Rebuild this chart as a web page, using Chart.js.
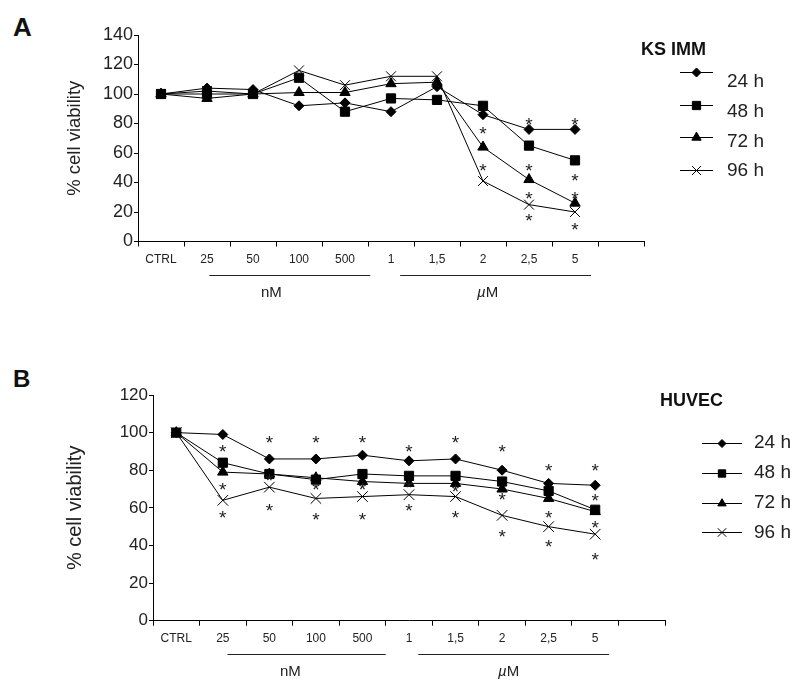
<!DOCTYPE html>
<html>
<head>
<meta charset="utf-8">
<script src="https://cdn.jsdelivr.net/npm/chart.js@4.4.1/dist/chart.umd.min.js"></script>
<style>
  body { margin: 0; background: #fff; width: 799px; height: 683px; position: relative; overflow: hidden; font-family: "Liberation Sans", Arial, sans-serif; }
  canvas { position: absolute; left: 0; }
  #chartA { top: 0; }
  #chartB { top: 350px; }
  .letter { position: absolute; left: 13px; font-weight: bold; color: #111; line-height: 1; }
</style>
</head>
<body>
<div class="letter" style="top:14px;font-size:26px">A</div>
<div class="letter" style="top:367px;font-size:24px">B</div>
<canvas id="chartA" width="799" height="340"></canvas>
<canvas id="chartB" width="799" height="333"></canvas>
<script>
const doseLabels = ["CTRL", "25", "50", "100", "500", "1", "1,5", "2", "2,5", "5", ""];
const timeLabels = ["24 h", "48 h", "72 h", "96 h"];
const yTicksA = [0, 20, 40, 60, 80, 100, 120, 140];
const yTicksB = [0, 20, 40, 60, 80, 100, 120];

// KS IMM
const ksimm24 = [100, 104, 103, 92, 94, 88, 105, 86, 76, 76];
const ksimm48 = [100, 100, 100, 111, 88, 97, 96, 92, 65, 55];
const ksimm72 = [100, 97, 100, 101, 101, 107, 108, 64, 42, 26];
const ksimm96 = [100, 102, 100, 116, 106, 112, 112, 41, 25, 20];
const ksimmStarDoses = ["2", "2", "2,5", "2,5", "2,5", "2,5", "5", "5", "5", "5"];
const ksimmStarValues = [76, 51, 82, 51, 32, 17, 82, 44, 32, 11];

// HUVEC
const huvec24 = [100, 99, 86, 86, 88, 85, 86, 80, 73, 72];
const huvec48 = [100, 84, 78, 75, 78, 77, 77, 74, 69, 59];
const huvec72 = [100, 79, 78, 76, 74, 73, 73, 70, 65, 58];
const huvec96 = [100, 64, 71, 65, 66, 67, 66, 56, 50, 46];
const huvecStarDoses = ["25", "25", "25", "50", "50", "50", "100", "100", "100", "500", "500", "500",
  "1", "1", "1", "1,5", "1,5", "1,5", "2", "2", "2", "2,5", "2,5", "2,5", "5", "5", "5", "5"];
const huvecStarValues = [92, 72, 57, 97, 77, 61, 97, 72, 56, 97, 72, 56,
  92, 73, 61, 97, 71, 57, 92, 67, 47, 82, 57, 42, 82, 66, 52, 35];

Chart.defaults.font.family = '"Liberation Sans", Arial, sans-serif';
Chart.defaults.color = "#222";

const markers = ["rectRot", "rect", "triangle", "crossRot"];
const FONT = '"Liberation Sans", Arial, sans-serif';

function makeDatasets(series, radii) {
  return series.map((values, i) => ({
    label: timeLabels[i],
    data: values,
    borderColor: "#000",
    borderWidth: 1,
    backgroundColor: "#000",
    pointStyle: markers[i],
    pointRadius: radii[i],
    pointBackgroundColor: "#000",
    pointBorderColor: "#000",
    pointBorderWidth: 1,
    tension: 0,
    fill: false,
  }));
}

// significance asterisks, placed through the chart's scales
const starPlugin = {
  id: "stars",
  afterDatasetsDraw(chart, args, opts) {
    const { ctx } = chart;
    const x = chart.scales.x, y = chart.scales.y;
    ctx.save();
    ctx.fillStyle = "#222";
    ctx.font = opts.size + "px " + FONT;
    ctx.textAlign = "center";
    ctx.textBaseline = "alphabetic";
    opts.doses.forEach((d, i) => {
      const px = x.getPixelForValue(doseLabels.indexOf(d));
      const py = y.getPixelForValue(opts.values[i]);
      ctx.fillText("*", px, py + opts.size * 0.57);
    });
    ctx.restore();
  },
};

// nM / µM brackets under the x axis
const unitPlugin = {
  id: "units",
  afterDraw(chart, args, opts) {
    const { ctx } = chart;
    const x = chart.scales.x;
    const base = chart.chartArea.bottom;
    ctx.save();
    ctx.strokeStyle = "#222";
    ctx.fillStyle = "#222";
    ctx.lineWidth = 1;
    opts.items.forEach((it) => {
      const x1 = x.getPixelForValue(it.from);
      const x2 = x.getPixelForValue(it.to);
      ctx.beginPath();
      ctx.moveTo(x1, Math.round(base + opts.lineOffset) + 0.5);
      ctx.lineTo(x2, Math.round(base + opts.lineOffset) + 0.5);
      ctx.stroke();
      const cx = x.getPixelForValue(it.at);
      const ty = base + opts.textOffset;
      ctx.textBaseline = "middle";
      if (it.text === "µM") {
        ctx.font = "italic " + opts.size + "px " + FONT;
        const w1 = ctx.measureText("µ").width;
        ctx.font = opts.size + "px " + FONT;
        const w2 = ctx.measureText("M").width;
        let sx = cx - (w1 + w2) / 2;
        ctx.textAlign = "left";
        ctx.font = "italic " + opts.size + "px " + FONT;
        ctx.fillText("µ", sx, ty);
        ctx.font = opts.size + "px " + FONT;
        ctx.fillText("M", sx + w1, ty);
      } else {
        ctx.textAlign = "center";
        ctx.font = opts.size + "px " + FONT;
        ctx.fillText(it.text, cx, ty);
      }
    });
    ctx.restore();
  },
};

// legend drawn as line + marker, like the original figure
const legendPlugin = {
  id: "sideLegend",
  afterDraw(chart, args, opts) {
    const { ctx } = chart;
    ctx.save();
    ctx.fillStyle = "#111";
    ctx.font = "bold " + opts.titleSize + "px " + FONT;
    ctx.textAlign = "left";
    ctx.textBaseline = "alphabetic";
    ctx.fillText(opts.title, opts.titleX, opts.titleY);
    chart.data.datasets.forEach((ds, i) => {
      const ly = Math.round(opts.lineY + i * opts.lineDy) + 0.5;
      ctx.strokeStyle = "#000";
      ctx.fillStyle = "#000";
      ctx.lineWidth = 1;
      ctx.beginPath();
      ctx.moveTo(opts.x1, ly);
      ctx.lineTo(opts.x2, ly);
      ctx.stroke();
      Chart.helpers.drawPoint(ctx, {
        pointStyle: ds.pointStyle,
        rotation: 0,
        radius: ds.pointRadius * opts.markerScale,
        borderWidth: 1,
      }, (opts.x1 + opts.x2) / 2, ly);
      ctx.fillStyle = "#222";
      ctx.font = opts.textSize + "px " + FONT;
      ctx.textBaseline = "middle";
      ctx.fillText(ds.label, opts.textX, opts.textY + i * opts.textDy);
    });
    ctx.restore();
  },
};

function makeChart(id, series, yTicks, cfg) {
  return new Chart(document.getElementById(id), {
    type: "line",
    data: { labels: doseLabels, datasets: makeDatasets(series, cfg.radii) },
    plugins: [starPlugin, unitPlugin, legendPlugin],
    options: {
      responsive: false,
      animation: false,
      devicePixelRatio: 1,
      layout: { padding: cfg.padding },
      scales: {
        x: {
          type: "category",
          offset: true,
          grid: { offset: true, drawOnChartArea: false, drawTicks: true, tickLength: 5, color: "#000" },
          border: { color: "#000", width: 1 },
          ticks: { maxRotation: 0, autoSkip: false, padding: 6, font: { size: 12 }, color: "#222" },
          afterFit: (s) => { s.height = 40; },
        },
        y: {
          min: yTicks[0],
          max: yTicks[yTicks.length - 1],
          ticks: { stepSize: yTicks[1] - yTicks[0], padding: 1, font: { size: cfg.yTickSize }, color: "#222" },
          grid: { drawOnChartArea: false, drawTicks: true, tickLength: 4, color: "#000" },
          border: { color: "#000", width: 1 },
          title: { display: true, text: "% cell viability", font: { size: cfg.yTitleSize }, color: "#222" },
          afterFit: (s) => { s.width = cfg.yWidth; },
        },
      },
      plugins: {
        legend: { display: false },
        tooltip: { enabled: false },
        stars: { doses: cfg.starDoses, values: cfg.starValues, size: 19 },
        units: cfg.units,
        sideLegend: cfg.legend,
      },
    },
  });
}

makeChart("chartA", [ksimm24, ksimm48, ksimm72, ksimm96], yTicksA, {
  radii: [5, 6.5, 6, 7],
  padding: { left: 60, right: 155, top: 35, bottom: 58.5 },
  yWidth: 78,
  yTickSize: 18,
  yTitleSize: 18.5,
  starDoses: ksimmStarDoses,
  starValues: ksimmStarValues,
  units: {
    size: 15, lineOffset: 33.5, textOffset: 51.5,
    items: [
      { text: "nM", from: 1.05, to: 4.55, at: 2.4 },
      { text: "µM", from: 5.2, to: 9.35, at: 7.1 },
    ],
  },
  legend: {
    title: "KS IMM", titleSize: 18, titleX: 641, titleY: 55,
    x1: 680, x2: 713, lineY: 72, lineDy: 32.5,
    textX: 727, textY: 82, textDy: 29.7, textSize: 19, markerScale: 0.9,
  },
});

makeChart("chartB", [huvec24, huvec48, huvec72, huvec96], yTicksB, {
  radii: [5, 6.5, 6, 7.5],
  padding: { left: 59, right: 134, top: 45, bottom: 22.3 },
  yWidth: 94,
  yTickSize: 17,
  yTitleSize: 20,
  starDoses: huvecStarDoses,
  starValues: huvecStarValues,
  units: {
    size: 15, lineOffset: 33.3, textOffset: 51.3,
    items: [
      { text: "nM", from: 1.1, to: 4.5, at: 2.45 },
      { text: "µM", from: 5.2, to: 9.3, at: 7.14 },
    ],
  },
  legend: {
    title: "HUVEC", titleSize: 18, titleX: 660, titleY: 56,
    x1: 702, x2: 742, lineY: 92.7, lineDy: 29.9,
    textX: 754, textY: 92.7, textDy: 29.9, textSize: 19, markerScale: 0.8,
  },
});
</script>
</body>
</html>
